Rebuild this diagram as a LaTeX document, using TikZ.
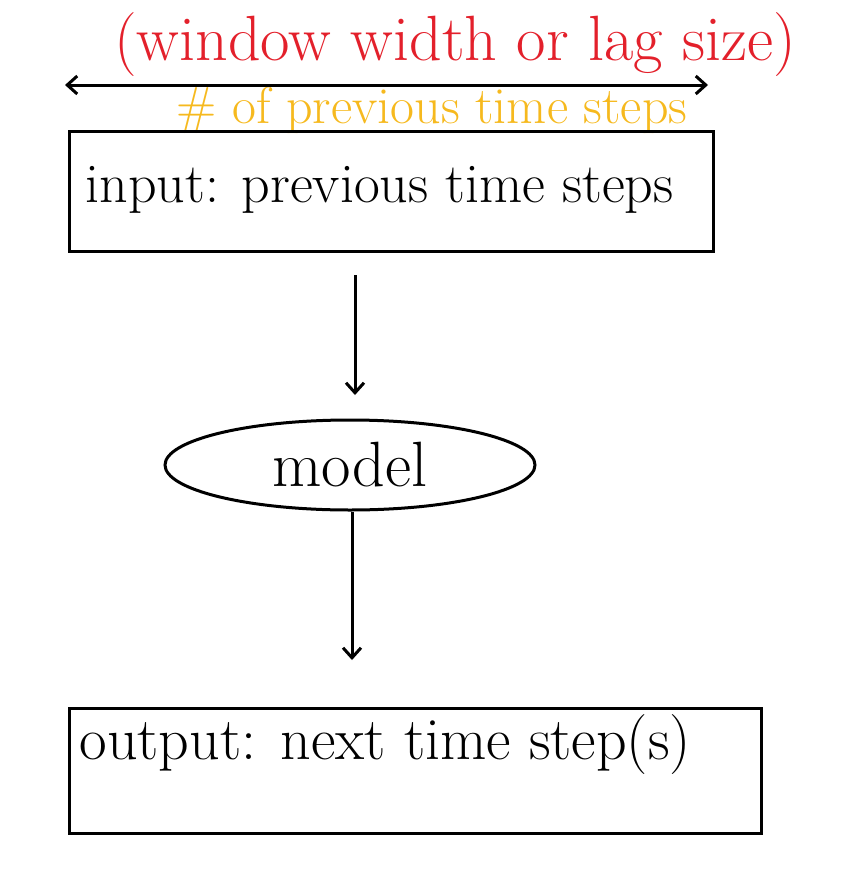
\documentclass[tikz,border=0pt]{standalone}
\usepackage{tikz}
\usetikzlibrary{arrows.meta,shapes.geometric,positioning}
\definecolor{penred}{HTML}{E3202B}
\definecolor{penorange}{HTML}{F6B91E}
\begin{document}
\begin{tikzpicture}[x=1pt,y=-1pt]
  \tikzset{box/.style = {shape=rectangle,draw,line width=3pt,anchor=north west,inner sep=0pt}}
  \tikzset{pen/.style = {font=\fontsize{56}{60}\selectfont}}
  \tikzset{arr/.style = {-{Straight Barb[length=10pt,width=18pt]},line width=3pt}}

	\useasboundingbox (0,0) rectangle (850,878);

	\coordinate (WL) at (65,85);
	\coordinate (WR) at (708,85);
	\node[pen,text=penred,font=\fontsize{64}{68}\selectfont] (W) at (455,45) {(window width or lag size)};
	\node[pen,text=penorange,font=\fontsize{52}{56}\selectfont] (N) at (432,110) {\# of previous time steps};

	\node[box,minimum width=644pt,minimum height=120pt] (I) at (68,130) {};
	\node[pen,anchor=west] (It) at (82,190) {input: previous time steps};

	\node[shape=ellipse,draw,line width=3pt,minimum width=370pt,minimum height=90pt,pen,font=\fontsize{64}{68}\selectfont] (M) at (350,465) {model};

	\node[box,minimum width=692pt,minimum height=125pt] (O) at (68,707) {};
	\node[pen,anchor=west,font=\fontsize{60}{64}\selectfont] (Ot) at (76,745) {output: next time step(s)};

	\coordinate (A1) at (355,275);
	\coordinate (A2) at (355,395);
	\coordinate (B2) at (352,660);

	\draw[{Straight Barb[length=10pt,width=18pt]}-{Straight Barb[length=10pt,width=18pt]},line width=3pt] (WL) -- (WR);
	\draw[arr] (A1) -- (A2);
	\draw[arr] (M.south -| B2) -- (B2);
\end{tikzpicture}
\end{document}
